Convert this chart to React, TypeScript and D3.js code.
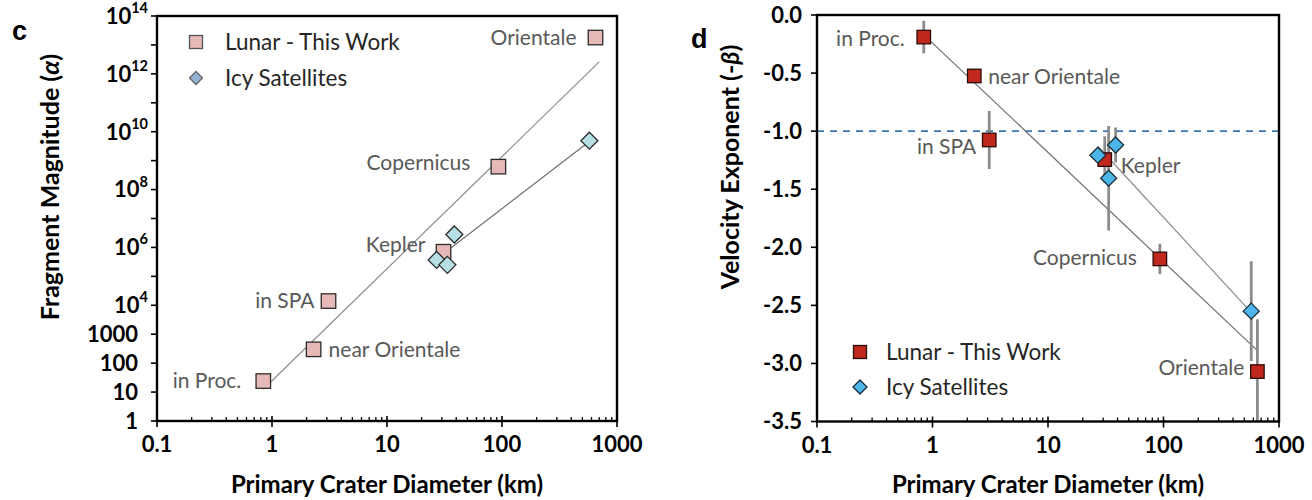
import React from 'react';
import * as d3 from 'd3';

// lunar craters (this work)
const lunarNames = ['in Proc.', 'near Orientale', 'in SPA', 'Kepler', 'Copernicus', 'Orientale'];
const lunarDiameter = [0.84, 2.3, 3.1, 31, 93, 650];
const lunarAlpha = [24, 300, 1.4e4, 7.1e5, 6.2e8, 1.8e13];
const lunarBeta = [-0.19, -0.525, -1.076, -1.245, -2.1, -3.07];
const lunarBetaErr = [0.14, 0.05, 0.25, 0.2, 0.13, 0.45];

// icy satellites
const icyDiameter = [27, 33.5, 38.5, 575];
const icyAlpha = [3.7e5, 2.5e5, 2.8e6, 4.9e9];
const icyBeta = [-1.207, -1.405, -1.119, -2.55];
const icyBetaErr = [0.05, 0.45, 0.15, 0.43];

// trend lines (two end points each)
const lunarAlphaFitD = [0.84, 700];
const lunarAlphaFitV = [12.5, 2.6e12];
const icyAlphaFitD = [27, 575];
const icyAlphaFitV = [4e5, 4.6e9];
const lunarBetaFitD = [0.86, 650];
const lunarBetaFitV = [-0.18, -2.89];
const icyBetaFitD = [27, 575];
const icyBetaFitV = [-1.13, -2.56];

const xTickValues = [0.1, 1, 10, 100, 1000];
const xTickLabels = ['0.1', '1', '10', '100', '1000'];
const alphaTicks = d3.range(0, 15).map(e => Math.pow(10, e));
const alphaLabelExp = [0, 1, 2, 3, 4, 6, 8, 10, 12, 14];
const alphaPlain = ['1', '10', '100', '1000'];
const betaTicks = [0, -0.5, -1, -1.5, -2, -2.5, -3, -3.5];
const betaTickLabels = ['0.0', '-0.5', '-1.0', '-1.5', '-2.0', '-2.5', '-3.0', '-3.5'];
const betaRef = -1.0;

const FONT = 'Lato, "Open Sans", sans-serif';
const LABEL_GRAY = '#595959';

// where each crater label sits relative to its marker
const alphaLabelPos = [
  { dx: -22, dy: 0, anchor: 'end' },
  { dx: 15, dy: 0, anchor: 'start' },
  { dx: -14, dy: 0, anchor: 'end' },
  { dx: -18, dy: -7, anchor: 'end' },
  { dx: -28, dy: -4, anchor: 'end' },
  { dx: -19, dy: 0, anchor: 'end' },
];
const betaLabelPos = [
  { dx: -19, dy: 2, anchor: 'end' },
  { dx: 14, dy: 1, anchor: 'start' },
  { dx: -13, dy: 7, anchor: 'end' },
  { dx: 16, dy: 6, anchor: 'start' },
  { dx: -23, dy: -1, anchor: 'end' },
  { dx: -13, dy: -4, anchor: 'end' },
];

const Square = ({ x, y, s, fill, stroke }) => (
  <rect x={x - s / 2} y={y - s / 2} width={s} height={s} fill={fill} stroke={stroke} strokeWidth={1.3} />
);

const Diamond = ({ x, y, r, fill, stroke }) => (
  <path d={`M${x},${y - r}L${x + r},${y}L${x},${y + r}L${x - r},${y}Z`} fill={fill} stroke={stroke} strokeWidth={1.3} />
);

const LogXAxis = ({ x, y0, y1 }) => {
  const minor = [];
  [0.1, 1, 10, 100].forEach(dec => {
    for (let k = 2; k <= 9; k++) minor.push(dec * k);
  });
  return (
    <g>
      {minor.map(v => (
        <line key={'m' + v} x1={x(v)} x2={x(v)} y1={y0} y2={y0 - 4} stroke="#000" strokeWidth={1.3} />
      ))}
      {xTickValues.map(v => (
        <line key={'M' + v} x1={x(v)} x2={x(v)} y1={y0 - 5} y2={y0 + 6} stroke="#000" strokeWidth={1.6} />
      ))}
      {xTickValues.map((v, i) => (
        <text key={'t' + v} x={x(v)} y={y0 + 31} textAnchor="middle" fontFamily={FONT} fontWeight="bold" fontSize={22}>
          {xTickLabels[i]}
        </text>
      ))}
      <text x={(x(0.1) + x(1000)) / 2} y={y1} textAnchor="middle" fontFamily={FONT} fontWeight="bold" fontSize={24}>
        Primary Crater Diameter (km)
      </text>
    </g>
  );
};

const Frame = ({ x0, x1, y0, y1 }) => (
  <rect x={x0} y={y0} width={x1 - x0} height={y1 - y0} fill="none" stroke="#000" strokeWidth={2.4} />
);

const line = d3.line();

const AlphaPanel = () => {
  const x = d3.scaleLog().domain([0.1, 1000]).range([157, 617]);
  const y = d3.scaleLog().domain([1, 1e14]).range([421, 16]);
  const lunarFill = '#e6b9b8';
  const icyFill = '#b7dfe6';
  return (
    <g>
      <text x={12} y={40} fontFamily='"Liberation Sans", Arial, sans-serif' fontWeight="bold" fontSize={27}>c</text>
      <text
        transform="translate(59,187) rotate(-90)"
        textAnchor="middle" fontFamily={FONT} fontWeight="bold" fontSize={25}
      >
        Fragment Magnitude (<tspan fontStyle="italic">α</tspan>)
      </text>
      {alphaTicks.map(v => (
        <line key={v} x1={x(0.1) - 6} x2={x(0.1)} y1={y(v)} y2={y(v)} stroke="#000" strokeWidth={1.6} />
      ))}
      {alphaLabelExp.map((e, i) =>
        e < 4 ? (
          <text key={e} x={138} y={y(Math.pow(10, e))} dy="0.36em" textAnchor="end" fontFamily={FONT} fontWeight="bold" fontSize={22}>
            {alphaPlain[i]}
          </text>
        ) : (
          <text key={e} x={148} y={y(Math.pow(10, e))} dy="0.36em" textAnchor="end" fontFamily={FONT} fontWeight="bold" fontSize={22}>
            10
            <tspan fontSize={14.5} dy="-0.75em">{e}</tspan>
          </text>
        )
      )}
      <path
        d={line(lunarAlphaFitD.map((d, i) => [x(d), y(lunarAlphaFitV[i])]))}
        stroke="#8c8c8c" strokeWidth={1.2} fill="none"
      />
      <path
        d={line(icyAlphaFitD.map((d, i) => [x(d), y(icyAlphaFitV[i])]))}
        stroke="#6f6f6f" strokeWidth={1.2} fill="none"
      />
      {lunarDiameter.map((d, i) => (
        <Square key={i} x={x(d)} y={y(lunarAlpha[i])} s={14.5} fill={lunarFill} stroke="#2b2b2b" />
      ))}
      {icyDiameter.map((d, i) => (
        <Diamond key={i} x={x(d)} y={y(icyAlpha[i])} r={8.5} fill={icyFill} stroke="#2b2b2b" />
      ))}
      {lunarNames.map((n, i) => (
        <text
          key={n}
          x={x(lunarDiameter[i]) + alphaLabelPos[i].dx}
          y={y(lunarAlpha[i]) + alphaLabelPos[i].dy}
          dy="0.35em" textAnchor={alphaLabelPos[i].anchor}
          fontFamily={FONT} fontSize={21} fill={LABEL_GRAY}
        >
          {n}
        </text>
      ))}
      <Square x={196} y={42} s={13} fill={lunarFill} stroke="#555" />
      <text x={225} y={42} dy="0.35em" fontFamily={FONT} fontSize={22.5} fill="#262626">Lunar - This Work</text>
      <Diamond x={196} y={78} r={6.5} fill="#95b3d7" stroke="#666" />
      <text x={225} y={78} dy="0.35em" fontFamily={FONT} fontSize={22.5} fill="#262626">Icy Satellites</text>
      <LogXAxis x={x} y0={421} y1={493} />
      <Frame x0={157} x1={617} y0={16} y1={421} />
    </g>
  );
};

const BetaPanel = () => {
  const x = d3.scaleLog().domain([0.1, 1000]).range([817, 1279]);
  const y = d3.scaleLinear().domain([-3.5, 0]).range([421.5, 15]);
  const lunarFill = '#c0281e';
  const icyFill = '#4cb6e8';
  return (
    <g>
      <defs>
        <clipPath id="betaClip">
          <rect x={817} y={15} width={462} height={406.5} />
        </clipPath>
      </defs>
      <text x={691} y={48} fontFamily='"Liberation Sans", Arial, sans-serif' fontWeight="bold" fontSize={27}>d</text>
      <text
        transform="translate(739,167) rotate(-90)"
        textAnchor="middle" fontFamily={FONT} fontWeight="bold" fontSize={25}
      >
        Velocity Exponent (-<tspan fontStyle="italic">β</tspan>)
      </text>
      {betaTicks.map((v, i) => (
        <g key={v}>
          <line x1={x(0.1) - 6} x2={x(0.1)} y1={y(v)} y2={y(v)} stroke="#000" strokeWidth={1.6} />
          <text x={802} y={y(v)} dy="0.36em" textAnchor="end" fontFamily={FONT} fontWeight="bold" fontSize={22}>
            {betaTickLabels[i]}
          </text>
        </g>
      ))}
      <line
        x1={x(0.1)} x2={x(1000)} y1={y(betaRef)} y2={y(betaRef)}
        stroke="#3a78b5" strokeWidth={1.6} strokeDasharray="7,6"
      />
      <path
        d={line(lunarBetaFitD.map((d, i) => [x(d), y(lunarBetaFitV[i])]))}
        stroke="#6f6f6f" strokeWidth={1.2} fill="none"
      />
      <path
        d={line(icyBetaFitD.map((d, i) => [x(d), y(icyBetaFitV[i])]))}
        stroke="#8c8c8c" strokeWidth={1.2} fill="none"
      />
      <g clipPath="url(#betaClip)">
        {lunarDiameter.map((d, i) => (
          <line key={'le' + i} x1={x(d)} x2={x(d)}
            y1={y(lunarBeta[i] + lunarBetaErr[i])} y2={y(lunarBeta[i] - lunarBetaErr[i])}
            stroke="#8c8c8c" strokeWidth={2.8} />
        ))}
        {icyDiameter.map((d, i) => (
          <line key={'ie' + i} x1={x(d)} x2={x(d)}
            y1={y(icyBeta[i] + icyBetaErr[i])} y2={y(icyBeta[i] - icyBetaErr[i])}
            stroke="#8c8c8c" strokeWidth={2.8} />
        ))}
      </g>
      {lunarDiameter.map((d, i) => (
        <Square key={i} x={x(d)} y={y(lunarBeta[i])} s={13.5} fill={lunarFill} stroke="#2a0a06" />
      ))}
      {icyDiameter.map((d, i) => (
        <Diamond key={i} x={x(d)} y={y(icyBeta[i])} r={8} fill={icyFill} stroke="#1d2a36" />
      ))}
      {lunarNames.map((n, i) => (
        <text
          key={n}
          x={x(lunarDiameter[i]) + betaLabelPos[i].dx}
          y={y(lunarBeta[i]) + betaLabelPos[i].dy}
          dy="0.35em" textAnchor={betaLabelPos[i].anchor}
          fontFamily={FONT} fontSize={21} fill={LABEL_GRAY}
        >
          {n}
        </text>
      ))}
      <Square x={860} y={352} s={13} fill={lunarFill} stroke="#2a0a06" />
      <text x={886} y={352} dy="0.35em" fontFamily={FONT} fontSize={22.5} fill="#262626">Lunar - This Work</text>
      <Diamond x={860} y={387} r={7} fill={icyFill} stroke="#1d2a36" />
      <text x={886} y={387} dy="0.35em" fontFamily={FONT} fontSize={22.5} fill="#262626">Icy Satellites</text>
      <LogXAxis x={x} y0={421.5} y1={493} />
      <Frame x0={817} x1={1279} y0={15} y1={421.5} />
    </g>
  );
};

export default function App() {
  return (
    <svg
      width={1312}
      height={500}
      style={{ position: 'absolute', left: 0, top: 0, background: '#fff' }}
    >
      <AlphaPanel />
      <BetaPanel />
    </svg>
  );
}
